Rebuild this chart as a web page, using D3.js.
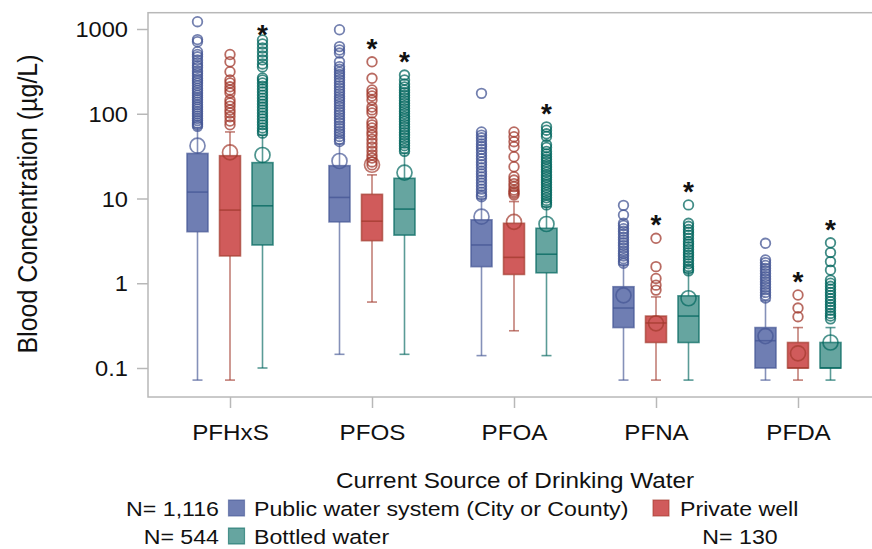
<!DOCTYPE html>
<html><head><meta charset="utf-8">
<script src="https://cdn.jsdelivr.net/npm/d3@7/dist/d3.min.js"></script>
<style>body{margin:0;background:#fff}svg{display:block}text{font-family:"Liberation Sans",Arial,sans-serif;fill:#111}</style>
</head><body><svg id="c" width="872" height="549"></svg>
<script>
const compounds = ["PFHxS","PFOS","PFOA","PFNA","PFDA"];
const sources = ["Public water system (City or County)","Private well","Bottled water"];
const sourceN = ["N= 1,116","N= 130","N= 544"];
const yTicks = [0.1, 1, 10, 100, 1000];
// [low whisker, Q1, median, Q3, high whisker, mean]
const publicBox = [
  [0.072, 4.06, 11.9, 34, 68, 42],
  [0.145, 5.3, 10.3, 24.4, 44, 27.7],
  [0.14, 1.57, 2.83, 5.6, 10, 6.1],
  [0.072, 0.30, 0.51, 0.91, 1.65, 0.72],
  [0.072, 0.10, 0.21, 0.30, 0.62, 0.238]
];
const privateBox = [
  [0.072, 2.1, 7.3, 32, 61, 35],
  [0.6, 3.18, 5.4, 11.2, 19, 25],
  [0.275, 1.27, 2.02, 5.1, 9.2, 5.3],
  [0.072, 0.20, 0.34, 0.41, 0.69, 0.337],
  [0.072, 0.10, 0.10, 0.20, 0.30, 0.149]
];
const bottledBox = [
  [0.10, 2.83, 8.2, 26.5, 56, 32.6],
  [0.145, 3.7, 7.5, 17.3, 34, 20.2],
  [0.14, 1.33, 2.2, 4.45, 8, 5.0],
  [0.072, 0.20, 0.41, 0.71, 1.35, 0.665],
  [0.072, 0.10, 0.10, 0.20, 0.30, 0.20]
];
const publicOutliers = [
  [1220, 750, 708, 540, 500, 470, 430, 400, 370, 350, 320, 300, 280, 260, 245, 230, 215, 200, 188, 176, 165, 155, 146, 137, 128, 120, 113, 106, 100, 94, 88, 83, 78, 74, 71],
  [980, 620, 565, 520, 410, 360, 335, 310, 290, 270, 250, 232, 215, 200, 186, 173, 160, 150, 140, 130, 121, 112, 104, 97, 90, 84, 78, 72, 67, 62, 58, 54, 50, 47],
  [174, 61, 56, 52, 48, 44, 41, 38, 35, 32, 29.5, 27, 25, 23, 21, 19.5, 18, 16.5, 15.2, 14, 12.9, 11.9, 11, 10.5],
  [8.3, 6.4, 5.1, 4.8, 4.4, 4.1, 3.8, 3.5, 3.25, 3.0, 2.8, 2.6, 2.4, 2.25, 2.1, 1.95, 1.82, 1.72],
  [2.96, 1.88, 1.75, 1.62, 1.5, 1.4, 1.3, 1.2, 1.12, 1.04, 0.97, 0.9, 0.84, 0.78, 0.72, 0.67]
];
const privateOutliers = [
  [500, 411, 313, 250, 231, 208, 191, 176, 145, 134, 123, 111, 102, 92, 82, 74],
  [410, 262, 191, 176, 162, 145, 120, 111, 102, 80, 74, 68, 61, 56, 50, 45, 40.5, 36.3, 32.6, 30, 27, 24.9],
  [61, 53.6, 46.8, 40.8, 31.1, 23.7, 18.1, 16.5, 15, 13.8, 12.6, 12.0, 11.5, 11.0],
  [3.39, 1.57, 1.14, 0.95, 0.83],
  [0.727, 0.51, 0.403]
];
const bottledOutliers = [
  [742, 665, 597, 536, 481, 432, 387, 357, 264, 250, 231, 212, 196, 181, 166, 153, 141, 130, 120, 111, 102, 94, 87, 80, 74, 68, 63, 59],
  [286, 250, 224, 207, 191, 178, 165, 154, 143, 133, 124, 115, 107, 100, 93, 87, 81, 75, 70, 65, 60, 56, 52, 48, 45, 42, 39, 36],
  [70, 64, 58, 54, 43, 40, 36, 33.5, 31, 29, 27, 25, 23.5, 22, 20.5, 19, 17.8, 16.6, 15.5, 14.5, 13.5, 12.6, 11.8, 11, 10.2, 9.5, 8.9, 8.4],
  [8.4, 5.1, 4.7, 4.3, 4.0, 3.7, 3.4, 3.1, 2.9, 2.7, 2.5, 2.3, 2.15, 2.0, 1.85, 1.7, 1.58, 1.47, 1.4],
  [3.0, 2.3, 1.8, 1.43, 1.09, 1.0, 0.92, 0.85, 0.78, 0.72, 0.66, 0.61, 0.56, 0.52, 0.48, 0.44, 0.41, 0.38]
];
// significance asterisk flags per compound
const publicSig  = [0,0,0,0,0];
const privateSig = [0,1,0,1,1];
const bottledSig = [1,1,1,1,1];

const boxes = [publicBox, privateBox, bottledBox];
const outs = [publicOutliers, privateOutliers, bottledOutliers];
const sigs = [publicSig, privateSig, bottledSig];
const fills = ["#6F7EB3", "#D05B5B", "#66A5A0"];
const lines = ["#445694", "#A23A2E", "#01665E"];

const svg = d3.select("#c");
const SX = 1.1;
const frame = {l:148, t:12.7, r:880, b:397};
const y = d3.scaleLog().domain([0.1, 1000]).range([368, 29]);
const x = d3.scalePoint().domain(compounds).range([230, 798]);
const xs = d3.scalePoint().domain(d3.range(3)).range([-32.5, 32.5]);

svg.append("rect").attr("x", frame.l).attr("y", frame.t)
  .attr("width", frame.r - frame.l).attr("height", frame.b - frame.t)
  .attr("fill", "none").attr("stroke", "#b8b8b8").attr("stroke-width", 1.5);

// y axis
const ya = svg.append("g").attr("transform", `translate(${frame.l},0)`)
  .call(d3.axisLeft(y).tickValues(yTicks).tickSize(11).tickPadding(9)
  .tickFormat(d => d3.format("~g")(d)));
ya.select(".domain").remove();
ya.selectAll(".tick line").attr("stroke", "#b8b8b8").attr("stroke-width", 1.5);
ya.selectAll(".tick text").each(function(){
  const t = d3.select(this);
  t.attr("x", null).attr("dy", null).attr("text-anchor", "end")
   .attr("transform", `translate(-20,7.5) scale(${SX},1)`)
   .style("font-size", "21.5px").style("font-family", "Liberation Sans");
});

// x axis
const xa = svg.append("g").attr("transform", `translate(0,${frame.b})`)
  .call(d3.axisBottom(x).tickSize(11).tickPadding(0));
xa.select(".domain").remove();
xa.selectAll(".tick line").attr("stroke", "#b8b8b8").attr("stroke-width", 1.5);
xa.selectAll(".tick text").each(function(){
  d3.select(this).attr("y", null).attr("dy", null).attr("text-anchor", "middle")
   .attr("transform", `translate(0,43) scale(${SX},1)`)
   .style("font-size", "22px").style("font-family", "Liberation Sans");
});

// y axis title
svg.append("text").attr("text-anchor", "middle")
  .attr("transform", `translate(37,204) rotate(-90) scale(1,${SX})`)
  .style("font-size", "25px").text("Blood Concentration (µg/L)");

// boxes
const BW = 21, CAP = 10;
const plot = svg.append("g");
compounds.forEach((c, ci) => {
  [0,1,2].forEach(si => {
    const [lo, q1, med, q3, hi, mean] = boxes[si][ci];
    const cx = x(c) + xs(si);
    const g = plot.append("g");
    const wl = {stroke: lines[si], "stroke-opacity": 0.65, "stroke-width": 1.6};
    const L = (x1, y1, x2, y2) => { const l = g.append("line").attr("x1",x1).attr("y1",y1).attr("x2",x2).attr("y2",y2); Object.entries(wl).forEach(([k,v])=>l.attr(k,v)); };
    L(cx, y(q1), cx, y(lo));
    L(cx, y(q3), cx, y(hi));
    L(cx - CAP/2, y(lo), cx + CAP/2, y(lo));
    L(cx - CAP/2, y(hi), cx + CAP/2, y(hi));
    g.append("rect").attr("x", cx - BW/2).attr("y", y(q3)).attr("width", BW)
      .attr("height", y(q1) - y(q3)).attr("fill", fills[si])
      .attr("stroke", lines[si]).attr("stroke-opacity", 0.7).attr("stroke-width", 1.6);
    g.append("line").attr("x1", cx - BW/2).attr("x2", cx + BW/2)
      .attr("y1", y(med)).attr("y2", y(med)).attr("stroke", lines[si]).attr("stroke-opacity", 0.75).attr("stroke-width", 1.6);
    g.append("circle").attr("cx", cx).attr("cy", y(mean)).attr("r", 7.5)
      .attr("fill", "none").attr("stroke", lines[si]).attr("stroke-opacity", 0.7).attr("stroke-width", 1.7);
    g.selectAll("circle.o").data(outs[si][ci]).join("circle").attr("class", "o")
      .attr("cx", cx).attr("cy", d => y(d)).attr("r", 4.8)
      .attr("fill", "none").attr("stroke", lines[si]).attr("stroke-opacity", 0.75).attr("stroke-width", 1.8);
    if (sigs[si][ci]) {
      const top = d3.max(outs[si][ci]);
      const sy = Math.max(y(top) - 20, 28);
      g.append("text").attr("x", cx).attr("y", sy + 16).attr("text-anchor", "middle")
        .style("font-size", "28px").style("font-weight", "bold").text("*");
    }
  });
});

// legend
const leg = svg.append("g");
const LSX = 1.13;
const T = (tx, ty, txt, anchor, fs) => leg.append("text").attr("text-anchor", anchor)
  .attr("transform", `translate(${tx},${ty}) scale(${LSX},1)`).style("font-size", (fs || 20.5) + "px").text(txt);
T(515, 488, "Current Source of Drinking Water", "middle", 21.5);
const sq = (sx, sy, i) => leg.append("rect").attr("x", sx).attr("y", sy).attr("width", 16).attr("height", 16)
  .attr("fill", fills[i]).attr("stroke", lines[i]).attr("stroke-opacity", 0.6).attr("stroke-width", 1.2);
T(219, 516, sourceN[0], "end"); sq(228.5, 500, 0); T(254, 516, sources[0], "start");
sq(653, 500, 1); T(680, 516, sources[1], "start");
T(219, 544, sourceN[2], "end"); sq(228.5, 528, 2); T(254, 544, sources[2], "start");
T(740, 544, sourceN[1], "middle");
</script></body></html>
